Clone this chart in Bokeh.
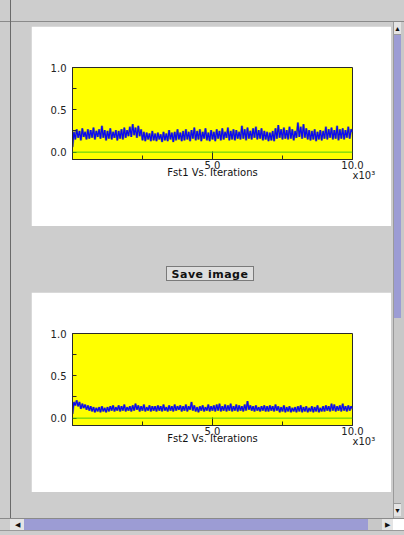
from bokeh.plotting import figure
from bokeh.models import Range1d, FixedTicker, Span, Label, Div, PrintfTickFormatter
from bokeh.layouts import column, row
from bokeh.embed import file_html
from bokeh.resources import INLINE

# ---------------- data ----------------
iterations = list(range(0, 10001, 50))

fst1 = [
    0.06, 0.24, 0.15, 0.27, 0.17, 0.25, 0.14, 0.28, 0.18, 0.24, 0.15, 0.27, 0.16, 0.26, 0.17, 0.29, 0.15, 0.25, 0.18, 0.27,
    0.16, 0.31, 0.17, 0.26, 0.14, 0.25, 0.16, 0.28, 0.15, 0.24, 0.17, 0.26, 0.14, 0.25, 0.16, 0.27, 0.15, 0.29, 0.17, 0.26,
    0.19, 0.30, 0.18, 0.33, 0.20, 0.29, 0.17, 0.31, 0.19, 0.27, 0.14, 0.24, 0.13, 0.23, 0.15, 0.22, 0.13, 0.25, 0.14, 0.22,
    0.13, 0.23, 0.15, 0.21, 0.12, 0.24, 0.14, 0.22, 0.13, 0.26, 0.15, 0.23, 0.12, 0.24, 0.14, 0.27, 0.15, 0.23, 0.13, 0.25,
    0.14, 0.27, 0.15, 0.24, 0.13, 0.26, 0.16, 0.29, 0.14, 0.25, 0.15, 0.27, 0.13, 0.24, 0.16, 0.28, 0.14, 0.23, 0.13, 0.26,
    0.15, 0.24, 0.13, 0.27, 0.16, 0.25, 0.14, 0.28, 0.15, 0.24, 0.17, 0.29, 0.14, 0.25, 0.15, 0.27, 0.14, 0.26, 0.16, 0.24,
    0.15, 0.31, 0.16, 0.27, 0.14, 0.29, 0.16, 0.25, 0.15, 0.28, 0.17, 0.30, 0.15, 0.26, 0.16, 0.28, 0.14, 0.25, 0.15, 0.24,
    0.13, 0.23, 0.14, 0.25, 0.13, 0.28, 0.16, 0.32, 0.17, 0.27, 0.15, 0.29, 0.16, 0.26, 0.15, 0.30, 0.16, 0.27, 0.14, 0.25,
    0.17, 0.35, 0.18, 0.30, 0.16, 0.33, 0.17, 0.28, 0.15, 0.26, 0.14, 0.25, 0.15, 0.27, 0.13, 0.24, 0.15, 0.26, 0.14, 0.25,
    0.16, 0.30, 0.15, 0.27, 0.17, 0.29, 0.15, 0.26, 0.16, 0.31, 0.14, 0.27, 0.16, 0.28, 0.15, 0.26, 0.17, 0.30, 0.16, 0.27,
    0.24,
]

fst2 = [
    0.05, 0.19, 0.15, 0.21, 0.14, 0.19, 0.11, 0.17, 0.12, 0.16, 0.10, 0.15, 0.09, 0.14, 0.08, 0.13, 0.07, 0.12, 0.08, 0.13,
    0.07, 0.14, 0.08, 0.12, 0.07, 0.13, 0.08, 0.14, 0.09, 0.15, 0.08, 0.13, 0.09, 0.15, 0.08, 0.14, 0.09, 0.16, 0.08, 0.13,
    0.09, 0.14, 0.08, 0.15, 0.09, 0.17, 0.10, 0.15, 0.08, 0.14, 0.09, 0.16, 0.08, 0.13, 0.09, 0.15, 0.08, 0.14, 0.09, 0.14,
    0.08, 0.15, 0.09, 0.14, 0.08, 0.16, 0.09, 0.13, 0.08, 0.15, 0.09, 0.14, 0.08, 0.16, 0.09, 0.14, 0.10, 0.15, 0.08, 0.14,
    0.09, 0.16, 0.08, 0.14, 0.10, 0.19, 0.09, 0.15, 0.08, 0.13, 0.07, 0.14, 0.09, 0.15, 0.08, 0.13, 0.09, 0.16, 0.08, 0.14,
    0.09, 0.15, 0.08, 0.16, 0.09, 0.17, 0.08, 0.14, 0.09, 0.16, 0.08, 0.15, 0.09, 0.17, 0.08, 0.14, 0.09, 0.16, 0.08, 0.15,
    0.09, 0.14, 0.08, 0.16, 0.09, 0.20, 0.10, 0.15, 0.09, 0.14, 0.08, 0.15, 0.09, 0.13, 0.08, 0.14, 0.09, 0.15, 0.08, 0.14,
    0.08, 0.15, 0.09, 0.14, 0.08, 0.16, 0.09, 0.14, 0.07, 0.13, 0.08, 0.15, 0.07, 0.13, 0.08, 0.14, 0.07, 0.12, 0.08, 0.13,
    0.07, 0.14, 0.08, 0.15, 0.07, 0.13, 0.08, 0.14, 0.07, 0.12, 0.08, 0.14, 0.07, 0.13, 0.08, 0.15, 0.07, 0.12, 0.08, 0.14,
    0.08, 0.15, 0.09, 0.14, 0.08, 0.17, 0.09, 0.16, 0.08, 0.14, 0.09, 0.15, 0.08, 0.17, 0.09, 0.14, 0.08, 0.15, 0.09, 0.14,
    0.11,
]

x_major_ticks = [5000, 10000]
x_minor_ticks = [2500, 7500]
x_tick_labels = {5000: "5.0", 10000: "10.0"}
y_major_ticks = [0.0, 0.5, 1.0]
y_minor_ticks = [0.25, 0.75]
x_multiplier_text = "x10\u00b3"
plot_titles = ["Fst1 Vs. Iterations", "Fst2 Vs. Iterations"]
button_text = "Save image"

FONT = "DejaVu Sans"
GRAY = "#cdcdcd"
PURPLE = "#9c9cd4"


def make_plot(values, title):
    p = figure(width=360, height=200,
               x_range=Range1d(0, 10000), y_range=Range1d(-0.087, 1.0),
               output_backend="svg", toolbar_location=None,
               min_border_left=41, min_border_right=39,
               min_border_top=41, min_border_bottom=67,
               background_fill_color="#ffff00", border_fill_color="#ffffff",
               outline_line_color="#2a2a2a", outline_line_width=1, margin=0)
    p.grid.visible = False

    xa = p.xaxis[0]
    xa.ticker = FixedTicker(ticks=x_major_ticks, minor_ticks=x_minor_ticks)
    xa.major_label_overrides = x_tick_labels
    xa.major_tick_in = 8
    xa.major_tick_out = 0
    xa.minor_tick_in = 4
    xa.minor_tick_out = 0
    xa.major_label_standoff = 1
    xa.axis_label = title
    xa.axis_label_standoff = -5
    xa.axis_label_text_font = FONT
    xa.axis_label_text_font_size = "10px"
    xa.axis_label_text_font_style = "normal"
    xa.axis_label_text_color = "#111111"

    ya = p.yaxis[0]
    ya.ticker = FixedTicker(ticks=y_major_ticks, minor_ticks=y_minor_ticks)
    ya.formatter = PrintfTickFormatter(format="%.1f")
    ya.major_tick_in = 4
    ya.major_tick_out = 0
    ya.minor_tick_in = 4
    ya.minor_tick_out = 0
    ya.major_label_standoff = 6

    for ax in (xa, ya):
        ax.major_label_text_font = FONT
        ax.major_label_text_font_size = "10px"
        ax.major_label_text_color = "#222222"
        ax.axis_line_color = "#2a2a2a"
        ax.major_tick_line_color = "#2a2a2a"
        ax.minor_tick_line_color = "#2a2a2a"

    p.add_layout(Span(location=0, dimension="width", line_color="#4ccc11", line_width=1))
    p.line(iterations, values, line_color="#4a4a7a", line_width=2.4, line_alpha=0.55)
    p.line(iterations, values, line_color="#0a0af0", line_width=1.3)

    # exponent note below the right end of the x axis (placed in the side panel so it is not clipped)
    p.add_layout(Label(x=10000, y=-0.276, text=x_multiplier_text,
                       text_font=FONT, text_font_size="10px", text_color="#222222",
                       text_align="left", text_baseline="middle"), "below")
    return p


p1 = make_plot(fst1, plot_titles[0])
p2 = make_plot(fst2, plot_titles[1])

VLINE = "linear-gradient(to right, transparent 10px, #6a6a6a 10px, #6a6a6a 11px, transparent 11px)"

top_bar = Div(text="", width=404, height=22, margin=0, styles={
    "background": VLINE + ", linear-gradient(to bottom, #cdcdcd 21px, #8a8a8a 21px)"})

left_strip = Div(text="", width=31, height=496, margin=0, styles={
    "background": VLINE + ", #cdcdcd"})

gap_top = Div(text="", width=360, height=4, margin=0, styles={"background-color": GRAY})
button_area = Div(
    text=('<div style="padding:40px 0 0 135px;">'
          '<div style="width:88px;height:15px;border:1px solid #7a7a7a;background:#dedede;'
          'font:bold 11px \'DejaVu Sans\';color:#111;text-align:center;line-height:15px;'
          'letter-spacing:0.5px;">' + button_text + '</div></div>'),
    width=360, height=66, margin=0, styles={"background-color": GRAY})
gap_bottom = Div(text="", width=360, height=26, margin=0, styles={"background-color": GRAY})

center_col = column(gap_top, p1, button_area, p2, gap_bottom, spacing=0, margin=0)

right_gap = Div(text="", width=2, height=496, margin=0, styles={"background-color": GRAY})
vscroll = Div(
    text=('<div style="height:13px;background:#e4e4e4;border-bottom:1px solid #9a9a9a;'
          'font-size:7px;line-height:13px;text-align:center;color:#111;">&#9650;</div>'
          '<div style="height:283px;background:' + PURPLE + ';"></div>'
          '<div style="height:185px;background:#c8c8c8;"></div>'
          '<div style="height:13px;background:#e4e4e4;border-top:1px solid #9a9a9a;'
          'font-size:7px;line-height:13px;text-align:center;color:#111;">&#9660;</div>'),
    width=11, height=496, margin=0,
    styles={"background-color": "#c8c8c8", "border-left": "1px solid #9a9a9a",
            "box-sizing": "border-box", "overflow": "hidden"})

mid_row = row(left_strip, center_col, right_gap, vscroll, spacing=0, margin=0)

hscroll = Div(
    text=('<div style="display:flex;height:12px;border-top:1px solid #8a8a8a;">'
          '<div style="width:10px;background:#cdcdcd;"></div>'
          '<div style="width:14px;background:#e4e4e4;font-size:7px;line-height:12px;text-align:center;color:#111;">&#9664;</div>'
          '<div style="width:344px;background:' + PURPLE + ';"></div>'
          '<div style="width:14px;background:#c8c8c8;"></div>'
          '<div style="width:11px;background:#e4e4e4;font-size:7px;line-height:12px;text-align:center;color:#111;">&#9654;</div>'
          '<div style="width:11px;background:#ffffff;"></div>'
          '</div>'
          '<div style="height:4px;background:#cdcdcd;border-top:1px solid #9a9a9a;"></div>'),
    width=404, height=17, margin=0, styles={"background-color": GRAY, "overflow": "hidden"})

root = column(top_bar, mid_row, hscroll, spacing=0, width=404, height=535, margin=0,
              styles={"background-color": GRAY})

open("out.html", "w").write(file_html(root, INLINE))
